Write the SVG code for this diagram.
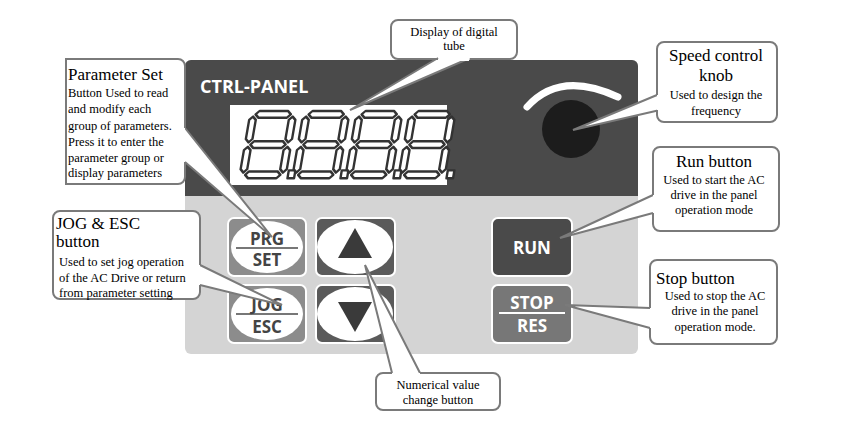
<svg xmlns="http://www.w3.org/2000/svg" width="862" height="436" viewBox="0 0 862 436">
<style>
.t{font-family:'Liberation Serif','Times New Roman',serif;fill:#000}
.h{font-size:17px}
.b{font-size:12.5px}
.box{fill:#fff;stroke:#7a7a7a;stroke-width:2}
.ptr{fill:#fff;stroke:none}
.pl{fill:none;stroke:#7a7a7a;stroke-width:2}
.btn{font-family:'Open Sans','DejaVu Sans',sans-serif;font-weight:bold;fill:#444;font-size:17px;text-anchor:middle}
.seg{fill:#fff;stroke:#333;stroke-width:2.2;stroke-linejoin:round}
</style>
<defs>
<g id="digit">
<polygon class="seg" points="2,3 5,0 31,0 34,3 31,6 5,6"/>
<polygon class="seg" points="2,30 5,27 31,27 34,30 31,33 5,33"/>
<polygon class="seg" points="2,57 5,54 31,54 34,57 31,60 5,60"/>
<polygon class="seg" points="0,5 3,8 3,25 0,28 -3,25 -3,8"/>
<polygon class="seg" points="36,5 39,8 39,25 36,28 33,25 33,8"/>
<polygon class="seg" points="0,32 3,35 3,52 0,55 -3,52 -3,35"/>
<polygon class="seg" points="36,32 39,35 39,52 36,55 33,52 33,35"/>
<rect class="seg" x="41" y="53" width="6" height="7"/>
</g>
</defs>
<rect width="862" height="436" fill="#fff"/>
<g id="panel">
<rect x="185" y="60" width="453" height="294" rx="6" fill="#d4d4d4"/>
<path d="M185,196 V66 a6,6 0 0 1 6,-6 H632 a6,6 0 0 1 6,6 V196 Z" fill="#4a4a4a"/>
<text x="200" y="93" font-family="Open Sans,DejaVu Sans,sans-serif" font-weight="bold" font-size="18" fill="#fff">CTRL-PANEL</text>
<rect x="230" y="105" width="217" height="80" fill="#fff"/>
<g transform="translate(254,111) scale(1.1,1.12) skewX(-10)"><use href="#digit"/></g>
<g transform="translate(307,111) scale(1.1,1.12) skewX(-10)"><use href="#digit"/></g>
<g transform="translate(360,111) scale(1.1,1.12) skewX(-10)"><use href="#digit"/></g>
<g transform="translate(413,111) scale(1.1,1.12) skewX(-10)"><use href="#digit"/></g>
<path d="M527,107 Q560,70 618,97" fill="none" stroke="#fff" stroke-width="7" stroke-linecap="round"/>
<circle cx="571" cy="129" r="29" fill="#1c1c1c"/>
</g>
<g id="btn-prg">
<rect x="228" y="218" width="78" height="58" rx="6" fill="#8c8c8c" stroke="#fff" stroke-width="2"/>
<ellipse cx="267" cy="247" rx="36" ry="26" fill="#fff"/>
<line x1="236" y1="248" x2="298" y2="248" stroke="#777" stroke-width="2"/>
<text class="btn" x="267" y="245">PRG</text>
<text class="btn" x="267" y="266">SET</text>
</g>
<g id="btn-up">
<rect x="316" y="218" width="79" height="58" rx="6" fill="#5a5a5a" stroke="#fff" stroke-width="2"/>
<ellipse cx="355" cy="247" rx="38" ry="27" fill="#fff"/>
<polygon points="355,228 338,258 372,258" fill="#3a3a3a"/>
</g>
<g id="btn-jog">
<rect x="228" y="285" width="78" height="58" rx="6" fill="#8c8c8c" stroke="#fff" stroke-width="2"/>
<ellipse cx="267" cy="314" rx="36" ry="26" fill="#fff"/>
<line x1="236" y1="314" x2="298" y2="314" stroke="#777" stroke-width="2"/>
<text class="btn" x="267" y="311">JOG</text>
<text class="btn" x="267" y="333">ESC</text>
</g>
<g id="btn-down">
<rect x="316" y="285" width="79" height="58" rx="6" fill="#5a5a5a" stroke="#fff" stroke-width="2"/>
<ellipse cx="355" cy="314" rx="38" ry="27" fill="#fff"/>
<polygon points="338,302 372,302 355,332" fill="#3a3a3a"/>
</g>
<g id="btn-run">
<rect x="492" y="218" width="80" height="58" rx="6" fill="#4a4a4a" stroke="#fff" stroke-width="2"/>
<text class="btn" x="532" y="254" style="fill:#fff" font-size="19">RUN</text>
</g>
<g id="btn-stop">
<rect x="492" y="285" width="80" height="58" rx="6" fill="#777" stroke="#fff" stroke-width="2"/>
<line x1="499" y1="313" x2="565" y2="313" stroke="#fff" stroke-width="2"/>
<text class="btn" x="532" y="309" style="fill:#fff">STOP</text>
<text class="btn" x="532" y="332" style="fill:#fff">RES</text>
</g>
<g id="connectors">
<polygon class="ptr" points="438,58 350,110 470,58"/>
<polyline class="pl" points="438,58 350,110 470,58"/>
<polygon class="ptr" points="657,95 573,130 660,110"/>
<polyline class="pl" points="657,95 573,130 660,110"/>
<polygon class="ptr" points="653,195 560,238 653,213"/>
<polyline class="pl" points="653,195 560,238 653,213"/>
<polygon class="ptr" points="650,308 565,305 650,328"/>
<polyline class="pl" points="650,308 565,305 650,328"/>
<polygon class="ptr" points="185,128 272,237 185,162"/>
<polyline class="pl" points="185,128 272,237 185,162"/>
<polygon class="ptr" points="200,265 282,305 200,285"/>
<polyline class="pl" points="200,265 282,305 200,285"/>
<polygon class="ptr" points="392,373 365,265 420,373"/>
<polyline class="pl" points="392,373 365,265 420,373"/>
</g>
<g font-family="Liberation Serif, Times New Roman, serif">
<g id="callout-display">
<path class="box" d="M398,20 H510 a7,7 0 0 1 7,7 V52 a7,7 0 0 1 -7,7 H470 M438,59 H398 a7,7 0 0 1 -7,-7 V27 a7,7 0 0 1 7,-7"/>
<rect x="439" y="55" width="30" height="6" fill="#fff"/>
<text class="t b" x="454" y="36" text-anchor="middle">Display of digital</text>
<text class="t b" x="454" y="50" text-anchor="middle">tube</text>
</g>
<g id="callout-knob">
<path class="box" d="M657,95 V49 a7,7 0 0 1 7,-7 H770 a7,7 0 0 1 7,7 V115 a7,7 0 0 1 -7,7 H664 a7,7 0 0 1 -7,-7 V110"/>
<text class="t h" x="716" y="61" text-anchor="middle" font-size="18">Speed control</text>
<text class="t h" x="716" y="81" text-anchor="middle" font-size="18">knob</text>
<text class="t b" x="716" y="99" text-anchor="middle">Used to design the</text>
<text class="t b" x="716" y="115" text-anchor="middle">frequency</text>
</g>
<g id="callout-run">
<path class="box" d="M653,195 V154 a7,7 0 0 1 7,-7 H772 a7,7 0 0 1 7,7 V224 a7,7 0 0 1 -7,7 H660 a7,7 0 0 1 -7,-7 V213"/>
<text class="t h" x="714" y="167" text-anchor="middle" font-size="18">Run button</text>
<text class="t b" x="714" y="184" text-anchor="middle">Used to start the AC</text>
<text class="t b" x="714" y="199" text-anchor="middle">drive in the panel</text>
<text class="t b" x="714" y="214" text-anchor="middle">operation mode</text>
</g>
<g id="callout-stop">
<path class="box" d="M650,308 V267 a7,7 0 0 1 7,-7 H770 a7,7 0 0 1 7,7 V337 a7,7 0 0 1 -7,7 H657 a7,7 0 0 1 -7,-7 V328"/>
<text class="t h" x="656" y="284" font-size="18">Stop button</text>
<text class="t b" x="715" y="300" text-anchor="middle">Used to stop the AC</text>
<text class="t b" x="715" y="315" text-anchor="middle">drive in the panel</text>
<text class="t b" x="715" y="331" text-anchor="middle">operation mode.</text>
</g>
<g id="callout-prg">
<path class="box" d="M185,128 V66 a7,7 0 0 0 -7,-7 H66 V184 H178 a7,7 0 0 0 7,-7 V162"/>
<text class="t h" x="68" y="80">Parameter Set</text>
<text class="t b" x="68" y="97">Button Used to read</text>
<text class="t b" x="68" y="113">and modify each</text>
<text class="t b" x="68" y="130">group of parameters.</text>
<text class="t b" x="68" y="146">Press it to enter the</text>
<text class="t b" x="68" y="162">parameter group or</text>
<text class="t b" x="68" y="177">display parameters</text>
</g>
<g id="callout-jog">
<path class="box" d="M200,265 V218 a7,7 0 0 0 -7,-7 H60 a7,7 0 0 0 -7,7 V292 a7,7 0 0 0 7,7 H193 a7,7 0 0 0 7,-7 V285"/>
<text class="t h" x="56" y="229">JOG &amp; ESC</text>
<text class="t h" x="56" y="247">button</text>
<text class="t b" x="59" y="266">Used to set jog operation</text>
<text class="t b" x="59" y="282">of the AC Drive or return</text>
<text class="t b" x="59" y="297">from parameter setting</text>
</g>
<g id="callout-num">
<path class="box" d="M392,373 H383 a7,7 0 0 0 -7,7 V403 a7,7 0 0 0 7,7 H493 a7,7 0 0 0 7,-7 V380 a7,7 0 0 0 -7,-7 H420"/>
<text class="t b" x="438" y="389" text-anchor="middle">Numerical value</text>
<text class="t b" x="438" y="404" text-anchor="middle">change button</text>
</g>
</g>
</svg>
